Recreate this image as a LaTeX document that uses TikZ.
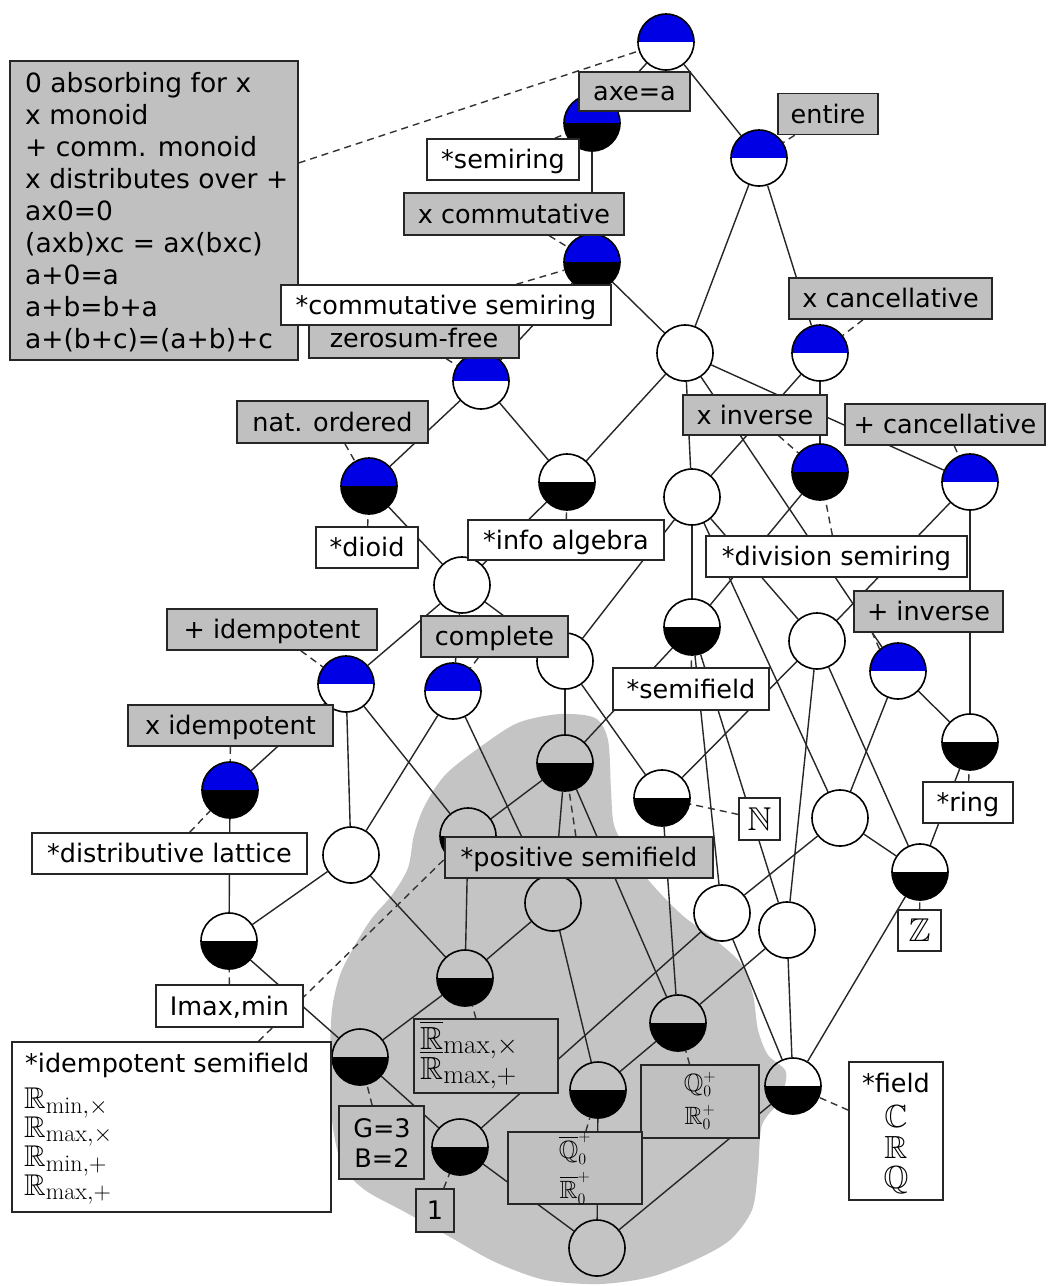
\RequirePackage{fix-cm}
\documentclass[tikz,border=0pt]{standalone}
\usepackage{amssymb}
\usepackage{fontspec}
\newfontfamily\dvs{DejaVu Sans}
\usetikzlibrary{calc}
\DeclareMathSizes{32}{32}{27}{19}
\DeclareMathSizes{30}{30}{24}{17}
\DeclareMathSizes{25}{25}{16}{12}
\DeclareMathSizes{33}{33}{25}{18}
\newcommand\lbfont{\dvs\fontsize{25.5}{30}\selectfont}
\newcommand\bxfont{\dvs\fontsize{26.5}{32}\selectfont}
\definecolor{lblgray}{RGB}{192,192,192}
\definecolor{blobgray}{RGB}{196,196,196}
\definecolor{nblue}{RGB}{0,0,228}
\pgfdeclarelayer{bg}
\pgfdeclarelayer{edges}
\pgfdeclarelayer{labels}
\pgfsetlayers{bg,edges,main,labels}
\tikzset{
  vtx/.style={circle, draw=black, line width=1.6pt, minimum size=56pt, inner sep=0pt},
  bw/.style={vtx, path picture={\fill[nblue] (path picture bounding box.west) rectangle (path picture bounding box.north east);}},
  bk/.style={vtx, path picture={\fill[nblue] (path picture bounding box.west) rectangle (path picture bounding box.north east);
      \fill[black] (path picture bounding box.west) rectangle (path picture bounding box.south east);}},
  wk/.style={vtx, path picture={\fill[black] (path picture bounding box.west) rectangle (path picture bounding box.south east);}},
  ww/.style={vtx},
  lbl/.style={draw=black!85, line width=1.5pt, inner sep=0pt, font=\lbfont, text height=22pt, text depth=4pt},
  glbl/.style={lbl, fill=lblgray},
  wlbl/.style={lbl, fill=white},
  txt/.style={inner sep=0pt, font=\lbfont},
  mth/.style={inner sep=0pt, font=\fontsize{#1}{#1}\selectfont},
  lnk/.style={line width=1.4pt, draw=black!85},
  conn/.style={line width=1.4pt, draw=black!80, dash pattern=on 7pt off 5pt},
}
\begin{document}
\begin{tikzpicture}[x=1pt,y=-1pt]
\useasboundingbox (0,0) rectangle (1049,1286);
\begin{pgfonlayer}{bg}
  \fill[white] (0,0) rectangle (1049,1286);
  \fill[blobgray] plot[smooth cycle, tension=0.5] coordinates {
    (520,722) (560,714) (595,718) (608,740) (611,790) (614,825) (628,852) (650,882)
    (682,915) (718,942) (742,965) (753,995) (758,1030) (768,1055) (786,1072) (780,1100)
    (762,1125) (758,1170) (752,1210) (730,1240) (695,1260) (650,1277) (600,1284)
    (545,1280) (495,1262) (450,1237) (405,1212) (365,1190) (342,1165) (332,1120)
    (330,1060) (332,1010) (340,975) (355,945) (372,918) (392,895) (408,868) (414,835)
    (425,805) (447,773) (490,740)};
\end{pgfonlayer}

% lattice nodes
\node[bw] (T) at (666,42) {};
\node[bk] (S) at (592,123) {};
\node[bw] (E) at (759,158) {};
\node[bk] (CS) at (592,262) {};
\node[ww] (W1) at (685,353) {};
\node[bw] (XC) at (820,353) {};
\node[bw] (ZF) at (481,381) {};
\node[bk] (D) at (369,486) {};
\node[wk] (IA) at (567,482) {};
\node[ww] (W2) at (692,497) {};
\node[bk] (DS) at (820,472) {};
\node[bw] (PC) at (970,482) {};
\node[ww] (W3) at (462,585) {};
\node[wk] (SF) at (692,627) {};
\node[ww] (W4) at (817,641) {};
\node[bw] (PI) at (346,684) {};
\node[bw] (CP) at (453,691) {};
\node[ww] (W5) at (565,661) {};
\node[bw] (PIv) at (898,671) {};
\node[wk] (R) at (970,742) {};
\node[bk] (XI) at (230,790) {};
\node[wk] (PSF) at (565,763) {};
\node[wk] (N) at (662,798) {};
\node[ww] (W6) at (351,855) {};
\node[wk] (PS2) at (468,836) {};
\node[ww] (W7) at (840,818) {};
\node[wk] (DL) at (229,941) {};
\node[ww] (W8) at (553,903) {};
\node[ww] (W9) at (722,913) {};
\node[ww] (W10) at (787,930) {};
\node[wk] (Z) at (920,872) {};
\node[wk] (RB) at (465,978) {};
\node[wk] (IS) at (360,1057) {};
\node[wk] (Q) at (678,1023) {};
\node[wk] (QB) at (598,1090) {};
\node[wk] (F) at (793,1086) {};
\node[wk] (ONE) at (460,1147) {};
\node[ww] (BOT) at (597,1248) {};

\begin{pgfonlayer}{labels}
  \node[glbl, minimum width=288pt, minimum height=299pt] (Lbig) at (154,210.5) {};
  \node[anchor=base west, inner sep=0pt, font=\bxfont] at (25,92) {0 absorbing for x};
  \node[anchor=base west, inner sep=0pt, font=\bxfont] at (25,124) {x monoid};
  \node[anchor=base west, inner sep=0pt, font=\bxfont] at (25,156) {+ comm. monoid};
  \node[anchor=base west, inner sep=0pt, font=\bxfont] at (25,188) {x distributes over +};
  \node[anchor=base west, inner sep=0pt, font=\bxfont] at (25,220) {ax0=0};
  \node[anchor=base west, inner sep=0pt, font=\bxfont] at (25,252) {(axb)xc = ax(bxc)};
  \node[anchor=base west, inner sep=0pt, font=\bxfont] at (25,284) {a+0=a};
  \node[anchor=base west, inner sep=0pt, font=\bxfont] at (25,316) {a+b=b+a};
  \node[anchor=base west, inner sep=0pt, font=\bxfont] at (25,348) {a+(b+c)=(a+b)+c};

  \node[glbl, minimum width=111pt, minimum height=39pt] (Laxe) at (634.5,91.5) {axe=a};
  \node[glbl, minimum width=100pt, minimum height=41pt] (Lentire) at (828,114) {entire};
  \node[wlbl, minimum width=152pt, minimum height=41pt] (Lsemiring) at (503,159.5) {*semiring};
  \node[glbl, minimum width=220pt, minimum height=42pt] (Lxcomm) at (514,214) {x commutative};
  \node[glbl, minimum width=210pt, minimum height=40pt] (Lzsf) at (414,338) {zerosum-free};
  \node[wlbl, minimum width=330pt, minimum height=40pt] (Lcomsr) at (446,305) {*commutative semiring};
  \node[glbl, minimum width=203pt, minimum height=41pt] (Lxcanc) at (890.5,298.5) {x cancellative};
  \node[glbl, minimum width=191pt, minimum height=42pt] (Lnat) at (332.5,422) {nat. ordered};
  \node[glbl, minimum width=144pt, minimum height=40pt] (Lxinv) at (755,415) {x inverse};
  \node[glbl, minimum width=200pt, minimum height=41pt] (Lpcanc) at (945,424.5) {+ cancellative};
  \node[wlbl, minimum width=102pt, minimum height=41pt] (Ldioid) at (367,547.5) {*dioid};
  \node[wlbl, minimum width=196pt, minimum height=40pt] (Linfo) at (566,540) {*info algebra};
  \node[wlbl, minimum width=261pt, minimum height=41pt] (Ldiv) at (836.5,556.5) {*division semiring};
  \node[glbl, minimum width=149pt, minimum height=41pt] (Lpinv) at (928.5,611.5) {+ inverse};
  \node[glbl, minimum width=210pt, minimum height=41pt] (Lpidem) at (272,629.5) {+ idempotent};
  \node[glbl, minimum width=147pt, minimum height=41pt] (Lcomplete) at (494.5,636.5) {complete};
  \node[wlbl, minimum width=156pt, minimum height=42pt] (Lsemifield) at (691,689) {*semifield};
  \node[glbl, minimum width=205pt, minimum height=41pt] (Lxidem) at (230.5,725.5) {x idempotent};
  \node[wlbl, minimum width=90pt, minimum height=41pt] (Lring) at (968,802.5) {*ring};
  \node[wlbl, minimum width=41pt, minimum height=42pt, font=\fontsize{33}{36}\selectfont, text height=22pt, text depth=0pt] (LN) at (759.5,819) {$\mathbb{N}$};
  \node[wlbl, minimum width=275pt, minimum height=41pt] (Ldl) at (169.5,853.5) {*distributive lattice};
  \node[glbl, minimum width=268pt, minimum height=41pt] (Lpsf) at (579,857.5) {*positive semifield};
  \node[wlbl, minimum width=43pt, minimum height=41pt, font=\fontsize{33}{36}\selectfont, text height=22pt, text depth=0pt] (LZ) at (919.5,930.5) {$\mathbb{Z}$};
  \node[wlbl, minimum width=147pt, minimum height=42pt] (Lmax) at (229.5,1006) {Imax,min};

  \node[wlbl, minimum width=319pt, minimum height=170pt] (Lidem) at (171.5,1127) {};
  \node[txt, anchor=base west] at (25,1072) {*idempotent semifield};
  \node[mth=30, anchor=base west] at (24,1108) {$\mathbb{R}_{\mathrm{min},\times}$};
  \node[mth=30, anchor=base west] at (24,1137) {$\mathbb{R}_{\mathrm{max},\times}$};
  \node[mth=30, anchor=base west] at (24,1166) {$\mathbb{R}_{\mathrm{min},+}$};
  \node[mth=30, anchor=base west] at (24,1195) {$\mathbb{R}_{\mathrm{max},+}$};

  \node[glbl, minimum width=144pt, minimum height=74pt] (LRb) at (486,1056) {};
  \node[mth=32, anchor=base west] at (420,1049) {$\overline{\mathbb{R}}_{\mathrm{max},\times}$};
  \node[mth=32, anchor=base west] at (420,1079) {$\overline{\mathbb{R}}_{\mathrm{max},+}$};

  \node[glbl, minimum width=85pt, minimum height=73pt] (LGB) at (381.5,1142.5) {};
  \node[txt, anchor=base] at (382,1137) {G=3};
  \node[txt, anchor=base] at (382,1167) {B=2};

  \node[glbl, minimum width=38pt, minimum height=43pt] (Lone) at (435,1210.5) {1};

  \node[glbl, minimum width=118pt, minimum height=73pt] (LQ) at (700,1101.5) {};
  \node[mth=25, anchor=base] at (700,1091) {$\mathbb{Q}_0^+$};
  \node[mth=25, anchor=base] at (700,1124) {$\mathbb{R}_0^+$};

  \node[glbl, minimum width=134pt, minimum height=72pt] (LQb) at (575,1168) {};
  \node[mth=25, anchor=base] at (575,1158) {$\overline{\mathbb{Q}}_0^+$};
  \node[mth=25, anchor=base] at (575,1198) {$\overline{\mathbb{R}}_0^+$};

  \node[wlbl, minimum width=94pt, minimum height=138pt] (Lfield) at (896,1131) {};
  \node[txt, anchor=base] at (896,1092) {*field};
  \node[mth=32, anchor=base] at (896,1127) {$\mathbb{C}$};
  \node[mth=32, anchor=base] at (896,1158) {$\mathbb{R}$};
  \node[mth=32, anchor=base] at (896,1188) {$\mathbb{Q}$};
\end{pgfonlayer}

\begin{pgfonlayer}{edges}
  \foreach \a/\b in {T/S, T/E, S/CS, E/W1, E/XC, CS/W1, CS/ZF, W1/IA, W1/W2, W1/PIv, W1/PC,
      XC/W2, XC/DS, ZF/D, ZF/IA, D/W3, IA/W3, W2/SF, W2/W4, W2/W7, W2/W5, DS/SF, PC/W4, PC/R,
      W3/PI, W3/CP, W3/W5, W5/PSF, W5/N, SF/PSF, SF/W9, SF/W10, W4/N, W4/W10, W4/Z,
      PIv/R, PIv/W7, R/Z, PI/W6, PI/PS2, PI/XI, CP/W6, CP/W8, PSF/PS2, PSF/W8, PSF/Q, N/Q,
      W7/W9, W7/Z, XI/DL, W6/DL, W6/RB, PS2/RB, W8/RB, W8/QB, W9/ONE, W9/F, W10/Q, W10/F,
      Z/F, DL/IS, RB/IS, IS/ONE, Q/QB, QB/BOT, ONE/BOT, F/BOT}
    \draw[lnk] (\a) -- (\b);
  % label connectors
  \draw[conn] (Lbig) -- (T);
  \draw[conn] (Lsemiring) -- (S);
  \draw[conn] (Lxcomm) -- (CS);
  \draw[conn] (Lcomsr) -- (CS);
  \draw[conn] (Lentire) -- (E);
  \draw[conn] (Lxcanc) -- (XC);
  \draw[conn] (Lzsf) -- (ZF);
  \draw[conn] (Lnat) -- (D);
  \draw[conn] (Ldioid) -- (D);
  \draw[conn] (Linfo) -- (IA);
  \draw[conn] (Lxinv) -- (DS);
  \draw[conn] (Ldiv) -- (DS);
  \draw[conn] (Lpcanc) -- (PC);
  \draw[conn] (Lpidem) -- (PI);
  \draw[conn] (Lcomplete) -- (CP);
  \draw[conn] (PIv.130) -- ($(Lpinv.south west)+(19,0)$);
  \draw[conn] (Lsemifield) -- (SF);
  \draw[conn] (Lxidem) -- (XI);
  \draw[conn] (Ldl) -- (XI);
  \draw[conn] (Lring) -- (R);
  \draw[conn] (LN) -- (N);
  \draw[conn] (Lpsf) -- (PSF);
  \draw[conn] (Lidem) -- (PS2);
  \draw[conn] (Lmax) -- (DL);
  \draw[conn] (LGB) -- (IS);
  \draw[conn] (LRb) -- (RB);
  \draw[conn] (Lone) -- (ONE);
  \draw[conn] (LQb) -- (QB);
  \draw[conn] (LQ) -- (Q);
  \draw[conn] (Lfield) -- (F);
  \draw[conn] (LZ) -- (Z);
\end{pgfonlayer}
\end{tikzpicture}
\end{document}
